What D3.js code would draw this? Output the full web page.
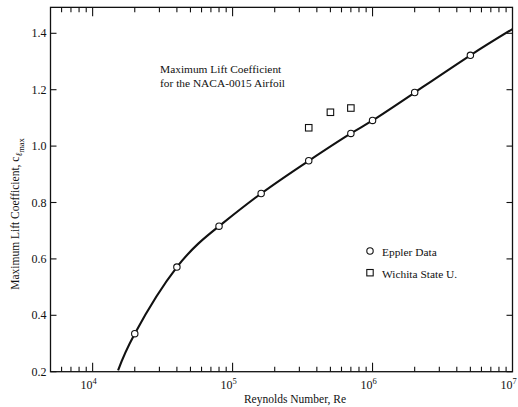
<!DOCTYPE html>
<html><head><meta charset="utf-8">
<script src="https://cdn.jsdelivr.net/npm/d3@7"></script>
<style>body{margin:0;background:#fff}svg{display:block}text{font-family:"Liberation Serif","Times New Roman",serif;fill:#111}</style>
</head><body><svg id="c" width="518" height="407"></svg>
<script>
// Eppler data (circles)
const epplerRe = [2e4, 4e4, 8e4, 1.6e5, 3.5e5, 7e5, 1e6, 2e6, 5e6];
const epplerCl = [0.335, 0.571, 0.716, 0.832, 0.948, 1.045, 1.091, 1.19, 1.322];
// Wichita State U. (squares)
const wichitaRe = [3.5e5, 5e5, 7e5];
const wichitaCl = [1.065, 1.12, 1.135];
// Faired curve
const curveRe = [1.52e4, 2e4, 4e4, 8e4, 1.6e5, 3.5e5, 7e5, 1e6, 2e6, 5e6, 1e7];
const curveCl = [0.205, 0.335, 0.571, 0.716, 0.832, 0.948, 1.045, 1.091, 1.19, 1.322, 1.415];
const yTicks = [0.2, 0.4, 0.6, 0.8, 1.0, 1.2, 1.4];
const xDecades = [1e4, 1e5, 1e6, 1e7];
const xDecadeExp = ["4", "5", "6", "7"];

const svg = d3.select("#c");
const x = d3.scaleLog().domain([5000, 1e7]).range([50.5, 512.5]);
const y = d3.scaleLinear().domain([0.2, 1.4]).range([371.7, 33.3]);
const yTop = 1.492;
const X0 = x.range()[0], X1 = x.range()[1], Y0 = y(0.2), Y1 = y(yTop);

const g = svg.append("g").attr("stroke", "#111").attr("fill", "none");
// frame
g.append("rect").attr("x", X0).attr("y", Y1).attr("width", X1 - X0).attr("height", Y0 - Y1).attr("stroke-width", 1.3);

// x ticks (bottom and top, inward)
const minor = [];
for (let e = 3; e < 7; e++) for (let m = 1; m <= 9; m++) { const v = m * Math.pow(10, e); if (v > 5000 && v < 1e7) minor.push(v); }
minor.forEach(v => {
  const major = xDecades.includes(v);
  const len = major ? 9 : 5;
  g.append("line").attr("x1", x(v)).attr("x2", x(v)).attr("y1", Y0).attr("y2", Y0 - len).attr("stroke-width", 1.1);
  g.append("line").attr("x1", x(v)).attr("x2", x(v)).attr("y1", Y1).attr("y2", Y1 + len).attr("stroke-width", 1.1);
});
// y ticks (left and right, inward)
yTicks.forEach(v => {
  g.append("line").attr("x1", X0).attr("x2", X0 + 6).attr("y1", y(v)).attr("y2", y(v)).attr("stroke-width", 1.1);
  g.append("line").attr("x1", X1).attr("x2", X1 - 6).attr("y1", y(v)).attr("y2", y(v)).attr("stroke-width", 1.1);
});

// y tick labels
svg.selectAll(".yl").data(yTicks).enter().append("text")
  .attr("x", X0 - 4).attr("y", d => y(d) + 4).attr("text-anchor", "end")
  .attr("font-size", 12).text(d => d.toFixed(1));
// x tick labels
xDecades.forEach((v, i) => {
  const t = svg.append("text").attr("x", x(v) - 4).attr("y", 389).attr("text-anchor", "middle").attr("font-size", 12);
  t.append("tspan").text("10");
  t.append("tspan").attr("dy", -5).attr("font-size", 8.5).text(xDecadeExp[i]);
});

// axis titles
svg.append("text").attr("x", 295).attr("y", 403).attr("text-anchor", "middle").attr("font-size", 11.5).text("Reynolds Number, Re");
const yl = svg.append("text").attr("transform", "translate(19,214) rotate(-90)").attr("text-anchor", "middle").attr("font-size", 11.5);
yl.append("tspan").text("Maximum Lift Coefficient, c");
yl.append("tspan").attr("dy", 3).attr("font-size", 9).attr("font-style", "italic").text("ℓ");
yl.append("tspan").attr("dy", 2).attr("font-size", 8.5).text("max");

// chart title
svg.append("text").attr("x", 160).attr("y", 73).attr("font-size", 11.4).text("Maximum Lift Coefficient");
svg.append("text").attr("x", 160).attr("y", 87).attr("font-size", 11.4).text("for the NACA-0015 Airfoil");

// curve
const pts = curveRe.map((r, i) => [x(r), y(curveCl[i])]);
svg.append("path").attr("d", d3.line().curve(d3.curveNatural)(pts))
  .attr("fill", "none").attr("stroke", "#111").attr("stroke-width", 2.1);

// eppler circles
svg.selectAll(".ep").data(epplerRe).enter().append("circle")
  .attr("cx", d => x(d)).attr("cy", (d, i) => y(epplerCl[i])).attr("r", 3.2)
  .attr("fill", "#fff").attr("stroke", "#111").attr("stroke-width", 1.1);
// wichita squares
const s = 6.5;
svg.selectAll(".ws").data(wichitaRe).enter().append("rect")
  .attr("x", d => x(d) - s / 2).attr("y", (d, i) => y(wichitaCl[i]) - s / 2).attr("width", s).attr("height", s)
  .attr("fill", "#fff").attr("stroke", "#111").attr("stroke-width", 1.1);

// legend
svg.append("circle").attr("cx", 370).attr("cy", 251).attr("r", 3.2).attr("fill", "#fff").attr("stroke", "#111").attr("stroke-width", 1.1);
svg.append("text").attr("x", 382).attr("y", 255.5).attr("font-size", 11.4).text("Eppler Data");
svg.append("rect").attr("x", 370 - 3.2).attr("y", 272.7 - 3.2).attr("width", 6.4).attr("height", 6.4).attr("fill", "#fff").attr("stroke", "#111").attr("stroke-width", 1.1);
svg.append("text").attr("x", 382).attr("y", 277.5).attr("font-size", 11.4).text("Wichita State U.");
</script></body></html>
